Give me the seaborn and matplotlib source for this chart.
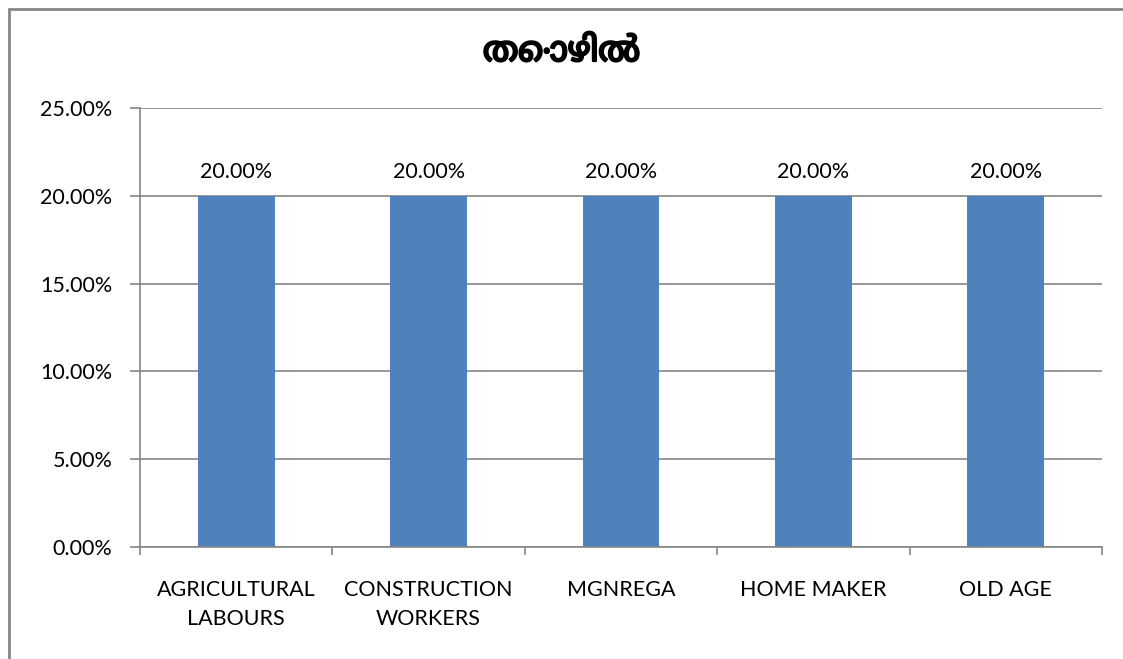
import matplotlib

matplotlib.use("Agg")
import matplotlib.pyplot as plt
import matplotlib.patheffects as pe
from matplotlib.patches import Rectangle
from matplotlib.ticker import FuncFormatter, MultipleLocator
import seaborn as sns
import pandas as pd

# chart data
categories = [
    "AGRICULTURAL\nLABOURS",
    "CONSTRUCTION\nWORKERS",
    "MGNREGA",
    "HOME MAKER",
    "OLD AGE",
]
shares = [0.20, 0.20, 0.20, 0.20, 0.20]
title = "തൊഴിൽ"

df = pd.DataFrame({"category": categories, "share": shares})

sns.set_theme(style="white")
plt.rcParams["font.family"] = ["Lato", "DejaVu Sans"]
plt.rcParams["text.color"] = "black"
plt.rcParams["xtick.labelcolor"] = "black"
plt.rcParams["ytick.labelcolor"] = "black"

fig = plt.figure(figsize=(11.23, 6.59), dpi=100)
ax = fig.add_axes([140 / 1123, 112 / 659, 962 / 1123, 439 / 659])

sns.barplot(data=df, x="category", y="share", color="#4F81BD",
            width=0.4, saturation=1, linewidth=0, ax=ax)

ax.set_ylim(0, 0.25)
ax.set_xlim(-0.5, len(categories) - 0.5)
ax.yaxis.set_major_locator(MultipleLocator(0.05))
ax.yaxis.set_major_formatter(FuncFormatter(lambda v, _: f"{v * 100:.2f}%"))
ax.grid(axis="y", color="#868686", linewidth=1.2)
ax.set_axisbelow(True)

for side in ["top", "right"]:
    ax.spines[side].set_visible(False)
for side in ["left", "bottom"]:
    ax.spines[side].set_color("#868686")
    ax.spines[side].set_linewidth(1.2)

# x ticks sit on the category boundaries, labels at the centres
ax.set_xticks([i - 0.5 for i in range(len(categories) + 1)])
ax.set_xticklabels([])
ax.set_xticks(range(len(categories)), minor=True)
ax.set_xticklabels(categories, minor=True)
ax.tick_params(axis="x", which="major", direction="out", length=6,
               color="#868686", width=1.2, bottom=True)
ax.tick_params(axis="x", which="minor", length=0, pad=24, labelsize=15.5)
ax.tick_params(axis="y", direction="out", length=7, color="#868686",
               width=1.2, left=True, pad=13, labelsize=15.5)
for lbl in ax.get_xticklabels(minor=True):
    lbl.set_linespacing(1.55)

ax.set_xlabel("")
ax.set_ylabel("")

for cont in ax.containers:
    ax.bar_label(cont, labels=[f"{v * 100:.2f}%" for v in cont.datavalues],
                 padding=10, fontsize=15.5)

# the Malayalam font has no bold face, so thicken it with a stroke
fig.text(0.5, 1 - 52 / 659, title, ha="center", va="center",
         fontsize=25, fontweight="bold",
         family=["Noto Sans Malayalam", "Lato", "DejaVu Sans"],
         path_effects=[pe.withStroke(linewidth=1.6, foreground="black")])

# outer chart border
fig.patches.append(Rectangle((9 / 1123, -0.1), 1.2, 1 - 9 / 659 + 0.1,
                             transform=fig.transFigure, fill=False,
                             edgecolor="#868686", linewidth=2))

fig.savefig("out.png", dpi=100)
